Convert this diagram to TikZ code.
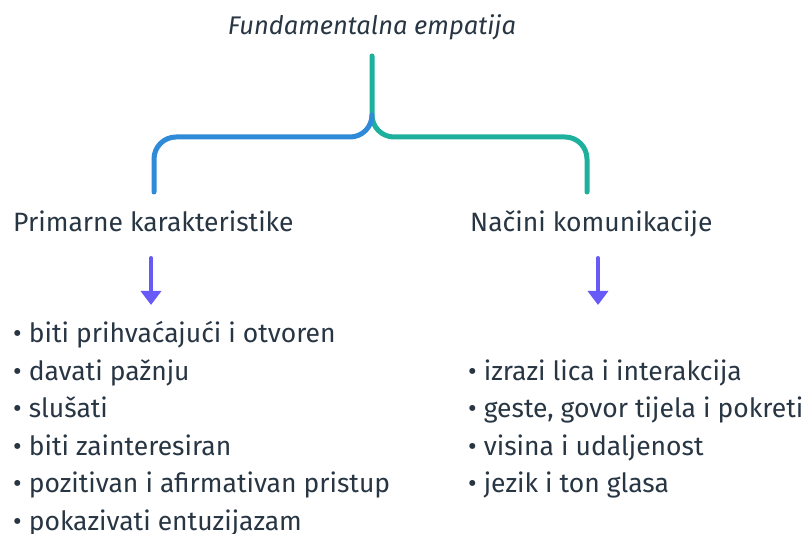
\documentclass[tikz,border=0pt]{standalone}
\usepackage{fontspec}
\setmainfont{Fira Sans}
\usetikzlibrary{arrows.meta}

\definecolor{ink}{RGB}{40,54,68}
\definecolor{braceblue}{RGB}{47,138,216}
\definecolor{braceteal}{RGB}{29,176,156}
\definecolor{arrowviolet}{RGB}{104,90,246}

\tikzset{
  txt/.style={text=ink, font=\fontsize{26.5}{30}\selectfont, inner sep=0pt, anchor=base west},
  brace/.style={line width=5pt, line cap=round, rounded corners=22pt},
  down/.style={arrowviolet, line width=4pt, line cap=round, -{Triangle[length=14pt,width=20pt]}}
}

\begin{document}
\begin{tikzpicture}[x=1pt,y=-1pt]
  \useasboundingbox (0,0) rectangle (808,534);

  \node[txt, anchor=base, font=\fontsize{25.5}{30}\selectfont\itshape] (title) at (372,35) {Fundamentalna empatija};

  % the brace below the title
  \coordinate (stem) at (372,56);
  \coordinate (fork) at (372,115);
  \coordinate (lfoot) at (154,192);
  \coordinate (rfoot) at (587,192);
  \draw[brace, braceteal] (stem) -- (372,137) -- (rfoot |- 0,137) -- (rfoot);
  \draw[brace, braceblue] (fork) -- (372,137) -- (lfoot |- 0,137) -- (lfoot);

  \node[txt] (primary) at (13,232) {Primarne karakteristike};
  \node[txt] (modes) at (470,232) {Načini komunikacije};

  \coordinate (la) at (151,258);
  \coordinate (lb) at (151,305);
  \coordinate (ra) at (598,258);
  \coordinate (rb) at (598,305);
  \draw[down] (la) -- (lb);
  \draw[down] (ra) -- (rb);

  \foreach \txt [count=\i] in {biti prihvaćajući i otvoren, davati pažnju, slušati,
      biti zainteresiran, pozitivan i afirmativan pristup, pokazivati entuzijazam}{
    \node[txt] (left\i) at (13,{342.5+37.5*(\i-1)}) {\textbullet\ \txt};
  }
  \foreach \txt [count=\i] in {izrazi lica i interakcija, {geste, govor tijela i pokreti},
      visina i udaljenost, jezik i ton glasa}{
    \node[txt] (right\i) at (468,{380+37.5*(\i-1)}) {\textbullet\ \txt};
  }
\end{tikzpicture}
\end{document}
